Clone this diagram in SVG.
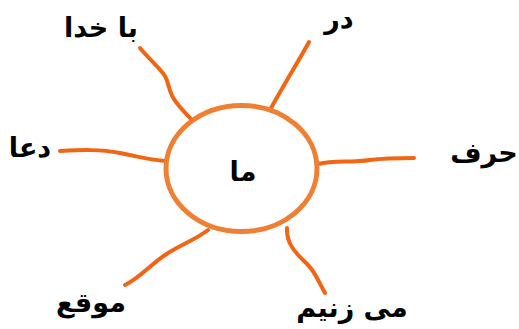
<svg xmlns="http://www.w3.org/2000/svg" width="519" height="329" viewBox="0 0 519 329">
<style>
.ray{fill:none;stroke:#F26513;stroke-width:4;stroke-linecap:round;stroke-linejoin:round}
.hub{fill:#ffffff;stroke:#EF8033;stroke-width:5}
.t{font-family:"DejaVu Sans",sans-serif;font-weight:bold;font-size:27px;fill:#000;text-anchor:middle}
</style>
<rect width="519" height="329" fill="#ffffff"/>
<g id="connectors">
<path class="ray" d="M140,48 C150,60 160,68 165,76 C170,85 168,92 176,102 C182,110 188,116 193,121"/>
<path class="ray" d="M309,42 C298,62 282,88 270,110"/>
<path class="ray" d="M60,151 C80,150 100,149 120,153 C140,157 150,160 166,161"/>
<path class="ray" d="M318,164 C335,160 350,163 370,160 C385,158 400,158 414,158"/>
<path class="ray" d="M208,230 C195,240 180,245 165,255 C150,265 140,278 125,285"/>
<path class="ray" d="M287,228 C286,245 298,255 308,265 C316,273 320,285 325,293"/>
</g>
<g id="hub">
<ellipse class="hub" cx="241.5" cy="168.5" rx="75.5" ry="63"/>
<text class="t" x="243" y="181" font-size="30">ما</text>
</g>
<g id="n-bakhoda"><text class="t" x="101" y="37">با خدا</text></g>
<g id="n-dar"><text class="t" x="339" y="28">در</text></g>
<g id="n-doa"><text class="t" x="30" y="157">دعا</text></g>
<g id="n-harf"><text class="t" x="484" y="162">حرف</text></g>
<g id="n-mowqe"><text class="t" x="91" y="312">موقع</text></g>
<g id="n-mizanim"><text class="t" x="352" y="317">می زنیم</text></g>
</svg>
